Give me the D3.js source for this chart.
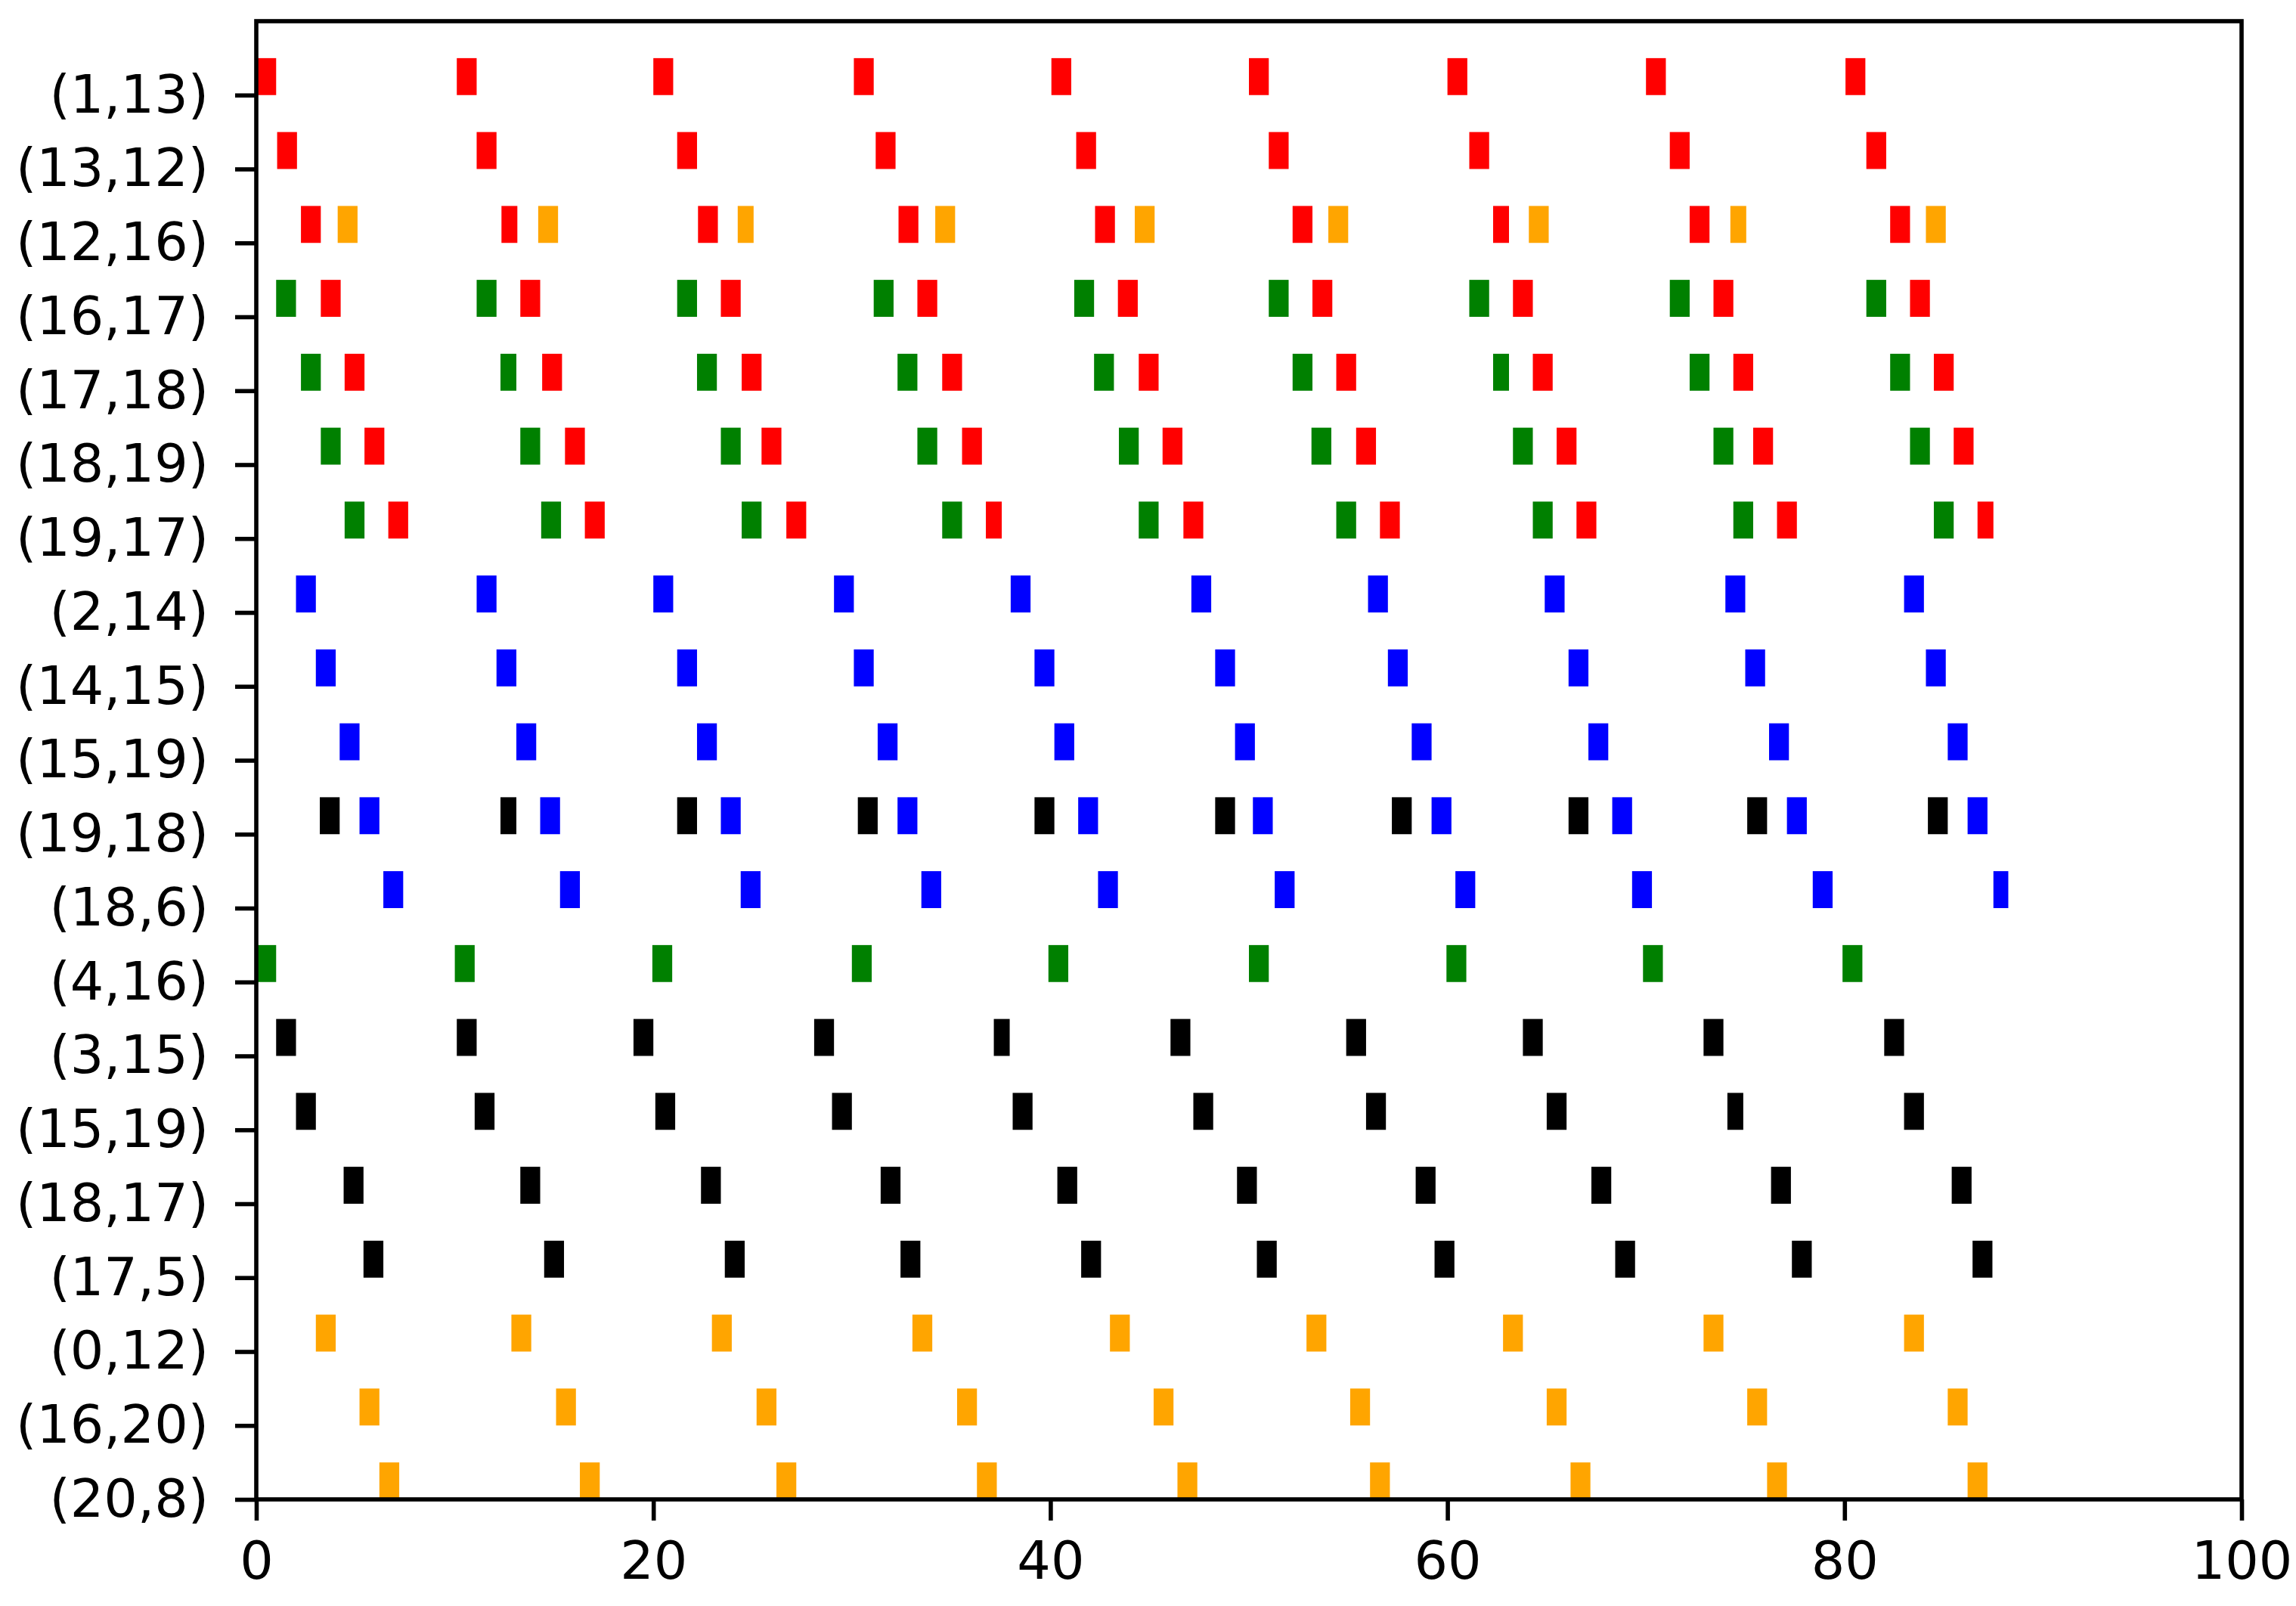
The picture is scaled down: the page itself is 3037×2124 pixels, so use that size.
<!DOCTYPE html>
<html>
<head>
<meta charset="utf-8">
<script src="https://cdn.jsdelivr.net/npm/d3@7"></script>
<style>
html, body { margin: 0; padding: 0; background: #ffffff; }
svg { display: block; }
</style>
</head>
<body>
<svg id="chart" width="3037" height="2124"></svg>
<script>
// ---- data ----
const rowLabels = ["(1,13)", "(13,12)", "(12,16)", "(16,17)", "(17,18)", "(18,19)", "(19,17)",
  "(2,14)", "(14,15)", "(15,19)", "(19,18)", "(18,6)", "(4,16)", "(3,15)", "(15,19)",
  "(18,17)", "(17,5)", "(0,12)", "(16,20)", "(20,8)"];
const xTicks = [0, 20, 40, 60, 80, 100];
const colors = { red: "#ff0000", orange: "#ffa500", green: "#008000", blue: "#0000ff", black: "#000000" };

// each entry: [start, duration]
const r0_red = [[0,1],[10.1,1],[20.0,1],[30.1,1],[40.05,1],[50.0,1],[60.0,1],[70.0,1],[80.05,1]];
const r1_red = [[1.05,1],[11.1,1],[21.2,1],[31.2,1],[41.3,1],[51.0,1],[61.1,1],[71.2,1],[81.1,1]];
const r2_red = [[2.25,1],[12.35,0.8],[22.25,1],[32.35,1],[42.25,1],[52.2,1],[62.3,0.8],[72.2,1],[82.3,1]];
const r2_orange = [[4.1,1],[14.2,1],[24.25,0.8],[34.2,1],[44.25,1],[54.0,1],[64.1,1],[74.25,0.8],[84.1,1]];
const r3_green = [[1.0,1],[11.1,1],[21.2,1],[31.1,1],[41.2,1],[51.0,1],[61.1,1],[71.2,1],[81.1,1]];
const r3_red = [[3.25,1],[13.3,1],[23.4,1],[33.3,1],[43.4,1],[53.2,1],[63.3,1],[73.4,1],[83.3,1]];
const r4_green = [[2.25,1],[12.3,0.8],[22.2,1],[32.3,1],[42.2,1],[52.2,1],[62.3,0.8],[72.2,1],[82.3,1]];
const r4_red = [[4.45,1],[14.4,1],[24.45,1],[34.55,1],[44.45,1],[54.4,1],[64.3,1],[74.4,1],[84.5,1]];
const r5_green = [[3.25,1],[13.3,1],[23.4,1],[33.3,1],[43.45,1],[53.15,1],[63.3,1],[73.4,1],[83.3,1]];
const r5_red = [[5.45,1],[15.55,1],[25.45,1],[35.55,1],[45.65,1],[55.4,1],[65.5,1],[75.4,1],[85.5,1]];
const r6_green = [[4.45,1],[14.35,1],[24.45,1],[34.55,1],[44.45,1],[54.4,1],[64.3,1],[74.4,1],[84.5,1]];
const r6_red = [[6.65,1],[16.55,1],[26.7,1],[36.75,0.8],[46.7,1],[56.6,1],[66.5,1],[76.6,1],[86.7,0.8]];
const r7_blue = [[2.0,1],[11.1,1],[20.0,1],[29.1,1],[38.0,1],[47.1,1],[56.0,1],[64.9,1],[74.0,1],[83.0,1]];
const r8_blue = [[3.0,1],[12.1,1],[21.2,1],[30.1,1],[39.2,1],[48.3,1],[57.0,1],[66.1,1],[75.0,1],[84.1,1]];
const r9_blue = [[4.2,1],[13.1,1],[22.2,1],[31.3,1],[40.2,1],[49.3,1],[58.2,1],[67.1,1],[76.2,1],[85.2,1]];
const r10_black = [[3.2,1],[12.3,0.8],[21.2,1],[30.3,1],[39.2,1],[48.3,1],[57.2,1],[66.1,1],[75.1,1],[84.2,1]];
const r10_blue = [[5.2,1],[14.3,1],[23.4,1],[32.3,1],[41.4,1],[50.2,1],[59.2,1],[68.3,1],[77.1,1],[86.2,1]];
const r11_blue = [[6.4,1],[15.3,1],[24.4,1],[33.5,1],[42.4,1],[51.3,1],[60.4,1],[69.3,1],[78.4,1],[87.5,0.75]];
const r12_green = [[0,1],[10.0,1],[19.95,1],[30.0,1],[39.9,1],[50.0,1],[59.95,1],[69.85,1],[79.9,1]];
const r13_black = [[1.0,1],[10.1,1],[19.0,1],[28.1,1],[37.15,0.8],[46.05,1],[54.9,1],[63.8,1],[72.9,1],[82.0,1]];
const r14_black = [[2.0,1],[11.0,1],[20.1,1],[29.0,1],[38.1,1],[47.2,1],[55.9,1],[65.0,1],[74.1,0.8],[83.0,1]];
const r15_black = [[4.4,1],[13.3,1],[22.4,1],[31.45,1],[40.35,1],[49.4,1],[58.4,1],[67.25,1],[76.3,1],[85.4,1]];
const r16_black = [[5.4,1],[14.5,1],[23.6,1],[32.45,1],[41.55,1],[50.4,1],[59.35,1],[68.45,1],[77.35,1],[86.45,1]];
const r17_orange = [[3.0,1],[12.85,1],[22.95,1],[33.05,1],[43.0,1],[52.9,1],[62.8,1],[72.9,1],[83.0,1]];
const r18_orange = [[5.2,1],[15.1,1],[25.2,1],[35.3,1],[45.2,1],[55.1,1],[65.0,1],[75.1,1],[85.2,1]];
const r19_orange = [[6.2,1],[16.3,1],[26.2,1],[36.3,1],[46.4,1],[56.1,1],[66.2,1],[76.1,1],[86.2,1]];

// series: [rowIndex (from top), colour, spans]
const series = [
  [0, "red", r0_red], [1, "red", r1_red], [2, "red", r2_red], [2, "orange", r2_orange],
  [3, "green", r3_green], [3, "red", r3_red], [4, "green", r4_green], [4, "red", r4_red],
  [5, "green", r5_green], [5, "red", r5_red], [6, "green", r6_green], [6, "red", r6_red],
  [7, "blue", r7_blue], [8, "blue", r8_blue], [9, "blue", r9_blue],
  [10, "black", r10_black], [10, "blue", r10_blue], [11, "blue", r11_blue],
  [12, "green", r12_green], [13, "black", r13_black], [14, "black", r14_black],
  [15, "black", r15_black], [16, "black", r16_black],
  [17, "orange", r17_orange], [18, "orange", r18_orange], [19, "orange", r19_orange]
];

// ---- layout ----
const plot = { left: 339, right: 2965, top: 28, bottom: 1983 };
const nRows = rowLabels.length;
const barHeight = 0.5;
const lineW = 5.6;
const fontSize = 70;

const svg = d3.select("#chart");
const x = d3.scaleLinear().domain([0, 100]).range([plot.left, plot.right]);
const y = d3.scaleLinear().domain([0, nRows]).range([plot.bottom, plot.top]);
const rowVal = k => nRows - 1 - k;

const flat = [];
series.forEach(([row, col, spans]) => spans.forEach(([s, w]) => flat.push({ row, col, s, w })));

svg.append("g").selectAll("rect")
  .data(flat)
  .join("rect")
  .attr("x", d => x(d.s))
  .attr("width", d => x(d.s + d.w) - x(d.s))
  .attr("y", d => y(rowVal(d.row) + barHeight))
  .attr("height", d => y(rowVal(d.row)) - y(rowVal(d.row) + barHeight))
  .attr("fill", d => colors[d.col]);

// axes
const yAxis = d3.axisLeft(y)
  .tickValues(d3.range(nRows))
  .tickFormat(v => rowLabels[nRows - 1 - v])
  .tickSize(28).tickSizeOuter(0).tickPadding(35);
const xAxis = d3.axisBottom(x)
  .tickValues(xTicks)
  .tickFormat(d3.format("d"))
  .tickSize(28).tickSizeOuter(0).tickPadding(27);

const gy = svg.append("g").attr("transform", `translate(${plot.left},0)`).call(yAxis);
const gx = svg.append("g").attr("transform", `translate(0,${plot.bottom})`).call(xAxis);

[gx, gy].forEach(g => {
  g.select(".domain").remove();
  g.selectAll(".tick line").attr("stroke", "#000").attr("stroke-width", lineW);
  g.selectAll(".tick text")
    .attr("fill", "#000")
    .style("font-family", "'DejaVu Sans', sans-serif")
    .style("font-size", fontSize + "px");
});

// frame
svg.append("rect")
  .attr("x", plot.left).attr("y", plot.top)
  .attr("width", plot.right - plot.left).attr("height", plot.bottom - plot.top)
  .attr("fill", "none").attr("stroke", "#000").attr("stroke-width", lineW);
</script>
</body>
</html>
